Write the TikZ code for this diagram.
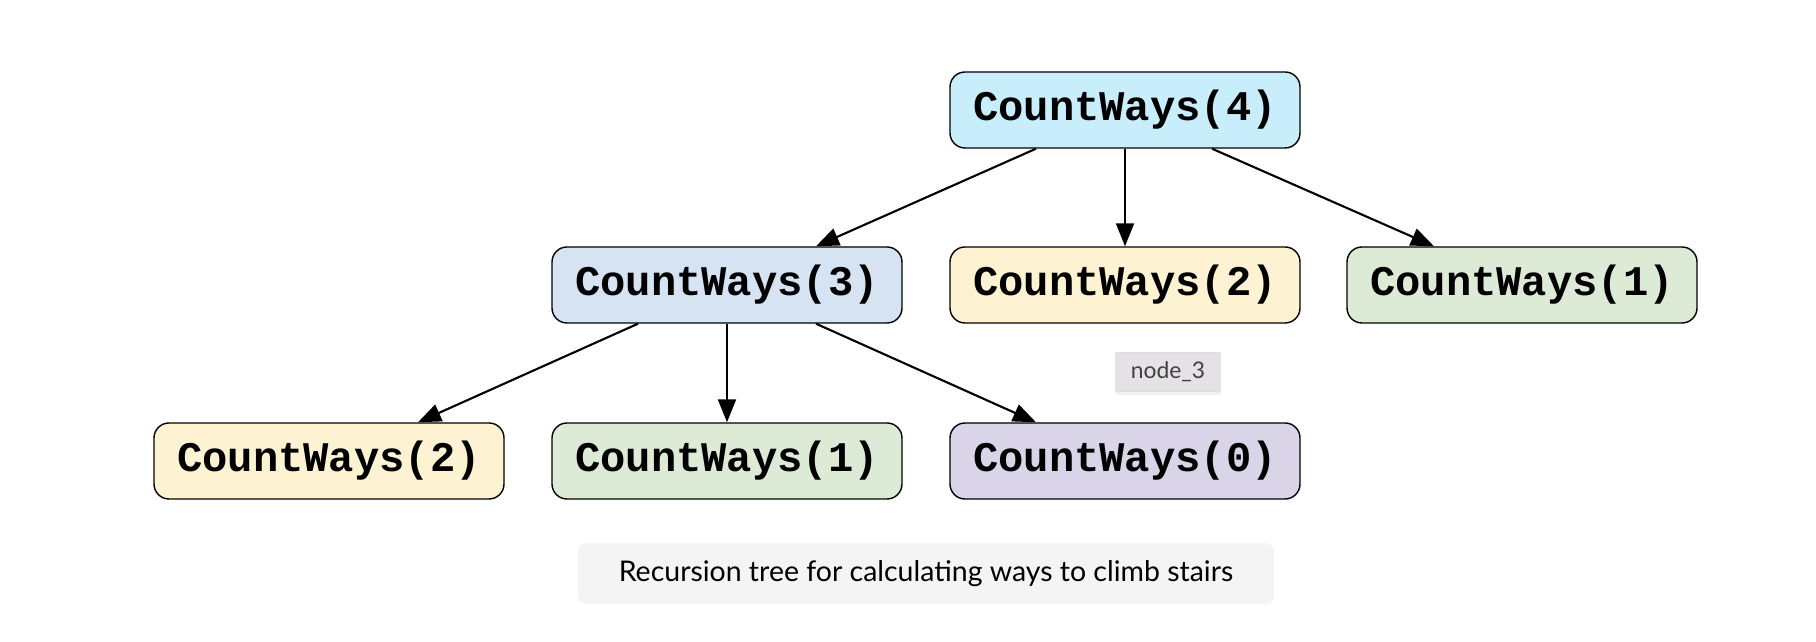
\documentclass[tikz,border=0pt]{standalone}
\usepackage{fontspec}
\setmonofont{Liberation Mono}
\setsansfont{Lato}
\usepackage{tikz}
\usetikzlibrary{positioning,arrows.meta,shadows}

\definecolor{callA}{HTML}{C9EEFB}
\definecolor{callB}{HTML}{D5E3F2}
\definecolor{callC}{HTML}{FDF3D2}
\definecolor{callD}{HTML}{DDEAD6}
\definecolor{callE}{HTML}{D9D4E8}
\definecolor{capbg}{HTML}{F4F4F4}
\definecolor{tipbg}{HTML}{E4E2E4}

\tikzset{
  call/.style={draw=black, line width=0.4pt, rounded corners=0.15cm,
    minimum width=3.5cm, minimum height=0.76cm, inner sep=0pt,
    font=\ttfamily\bfseries\fontsize{12}{14}\selectfont},
  edge/.style={line width=0.6pt, -{Triangle[length=0.23cm,width=0.18cm]}}
}

\begin{document}
\begin{tikzpicture}

\useasboundingbox (0,0) rectangle (18.16,-6.42);

% Root call
\node[call, fill=callA] (c4) at (11.25,-1.10) {CountWays(4)};

% Second level
\node[call, fill=callB] (c3) at (7.27,-2.85) {CountWays(3)};
\node[call, fill=callC] (c2a) at (11.25,-2.85) {CountWays(2)};
\node[call, fill=callD] (c1a) at (15.22,-2.85) {CountWays(1)};

% Third level (children of CountWays(3))
\node[call, fill=callC] (c2b) at (3.29,-4.61) {CountWays(2)};
\node[call, fill=callD] (c1b) at (7.27,-4.61) {CountWays(1)};
\node[call, fill=callE] (c0) at (11.25,-4.61) {CountWays(0)};

% Calls
\draw[edge] ([xshift=-0.89cm]c4.south) -- ([xshift=0.89cm]c3.north);
\draw[edge] (c4.south) -- (c2a.north);
\draw[edge] ([xshift=0.87cm]c4.south) -- ([xshift=-0.88cm]c1a.north);

\draw[edge] ([xshift=-0.89cm]c3.south) -- ([xshift=0.89cm]c2b.north);
\draw[edge] (c3.south) -- (c1b.north);
\draw[edge] ([xshift=0.89cm]c3.south) -- ([xshift=-0.89cm]c0.north);

% Hover label
\node[fill=tipbg, draw=black!12, line width=0.3pt, minimum width=1.05cm, minimum height=0.38cm,
  inner sep=0pt, text=black!75, font=\sffamily\fontsize{6.5}{8}\selectfont,
  drop shadow={opacity=0.12, shadow xshift=0pt, shadow yshift=-0.04cm}] (tip) at (11.68,-3.72) {node\_3};

% Caption
\node[fill=capbg, rounded corners=0.08cm, minimum width=6.96cm, minimum height=0.61cm,
  inner sep=0pt, font=\sffamily\fontsize{8.1}{10}\selectfont] (cap) at (9.26,-5.735)
  {Recursion tree for calculating ways to climb stairs};

\end{tikzpicture}
\end{document}
